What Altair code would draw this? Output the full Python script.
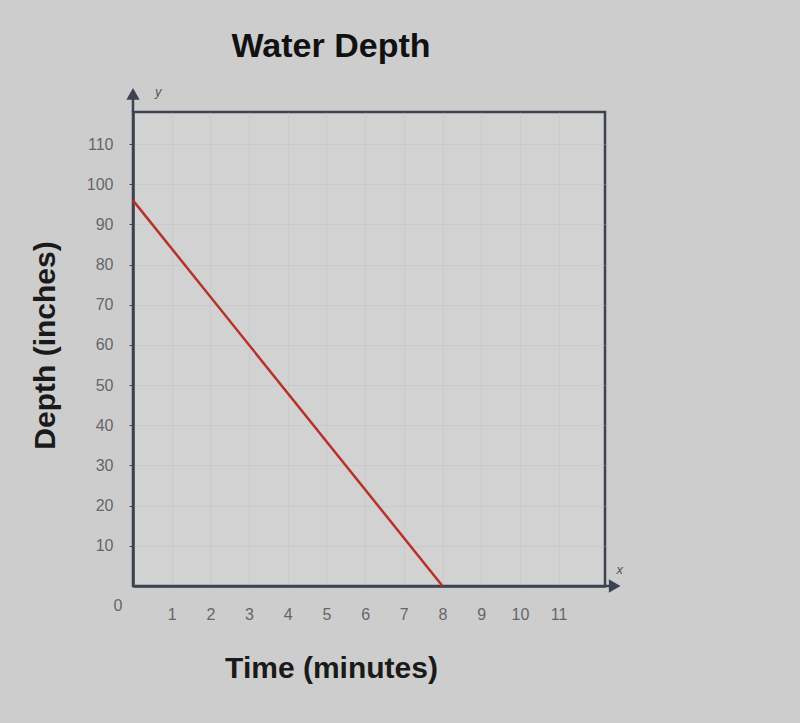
import altair as alt
import pandas as pd

# ---- data ----
time_min = [0, 8]
depth_in = [96, 0]
x_tick_values = list(range(1, 12))
y_tick_values = list(range(10, 120, 10))

df = pd.DataFrame({"time": time_min, "depth": depth_in})

FONT = "Liberation Sans"
AXIS_COLOR = "#3c4350"

xs = alt.Scale(domain=[0, 12.2], nice=False, zero=False)
ys = alt.Scale(domain=[0, 118], nice=False, zero=False)

one = alt.Data(values=[{}])

line = alt.Chart(df).mark_line(color="#b8302a", strokeWidth=2.5).encode(
    x=alt.X("time:Q", scale=xs, axis=alt.Axis(
        values=x_tick_values, title="Time (minutes)", grid=True,
        gridColor="#bdbdbd", gridOpacity=0.4,
        labelFont=FONT, labelFontSize=16, labelColor="#666666", labelPadding=20,
        tickSize=0, domainColor=AXIS_COLOR, domainWidth=2.5,
        titleFont=FONT, titleFontSize=30, titleFontWeight="bold", titleColor="#1a1a1a",
        titleX=198, titleY=82, titleBaseline="middle", titleAnchor="middle", titleAlign="center")),
    y=alt.Y("depth:Q", scale=ys, axis=alt.Axis(
        values=y_tick_values, title="Depth (inches)", grid=True,
        gridColor="#bdbdbd", gridOpacity=0.4,
        labelFont=FONT, labelFontSize=16, labelColor="#666666", labelPadding=16,
        tickSize=4, tickColor=AXIS_COLOR, domainColor=AXIS_COLOR, domainWidth=2.5,
        titleFont=FONT, titleFontSize=30, titleFontWeight="bold", titleColor="#1a1a1a",
        titleX=-88, titleY=233, titleAngle=270, titleBaseline="middle", titleAlign="center")),
)

y_ext = alt.Chart(one).mark_rule(color=AXIS_COLOR, strokeWidth=2.5).encode(
    x=alt.datum(0), y=alt.datum(118), y2=alt.datum(122))
x_ext = alt.Chart(one).mark_rule(color=AXIS_COLOR, strokeWidth=2.5).encode(
    y=alt.datum(0), x=alt.datum(12.2), x2=alt.datum(12.5))
y_arrow = alt.Chart(one).mark_point(shape="triangle-up", filled=True, size=180,
                                    color=AXIS_COLOR, opacity=1).encode(
    x=alt.datum(0), y=alt.datum(122.5))
x_arrow = alt.Chart(one).mark_point(shape="triangle-right", filled=True, size=180,
                                    color=AXIS_COLOR, opacity=1).encode(
    x=alt.datum(12.45), y=alt.datum(0))
y_lab = alt.Chart(one).mark_text(text="y", font=FONT, fontSize=13, fontStyle="italic",
                                 color="#555", align="left", dx=22).encode(
    x=alt.datum(0), y=alt.datum(123))
x_lab = alt.Chart(one).mark_text(text="x", font=FONT, fontSize=13, fontStyle="italic",
                                 color="#555", align="left").encode(
    x=alt.datum(12.5), y=alt.datum(4))
zero_lab = alt.Chart(one).mark_text(text="0", font=FONT, fontSize=16, color="#666666",
                                    dx=-15, dy=20).encode(
    x=alt.datum(0), y=alt.datum(0))

chart = alt.layer(line, y_ext, x_ext, y_arrow, x_arrow, y_lab, x_lab, zero_lab).properties(
    width=472, height=474,
    autosize=alt.AutoSizeParams(type="none"),
    padding={"left": 133, "top": 112, "right": 195, "bottom": 137},
    background="#cdcdcd",
    title=alt.TitleParams("Water Depth", font=FONT, fontSize=34, fontWeight="bold",
                          color="#111111", anchor="middle", dx=-38, offset=22),
).configure_view(stroke=AXIS_COLOR, strokeWidth=2.5, fill="#d2d2d2")

chart.save("out.html", embed_options={"renderer": "svg", "actions": False})
